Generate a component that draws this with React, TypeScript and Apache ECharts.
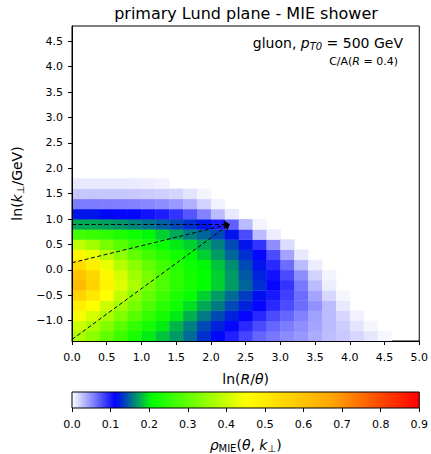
import React, { useEffect, useRef } from "react";
import * as echarts from "echarts";

const FONT = "DejaVu Sans";
const BIN = 0.2;

// lower edges of the bins
const xBins = [0, 0.2, 0.4, 0.6, 0.8, 1.0, 1.2, 1.4, 1.6, 1.8, 2.0, 2.2, 2.4, 2.6, 2.8, 3.0, 3.2, 3.4, 3.6, 3.8, 4.0, 4.2, 4.4, 4.6, 4.8];
const yBins = [-1.4, -1.2, -1.0, -0.8, -0.6, -0.4, -0.2, 0.0, 0.2, 0.4, 0.6, 0.8, 1.0, 1.2, 1.4, 1.6];

// density rows, bottom (y=-1.4) to top (y=1.6); columns follow xBins
const rho_r0 = [0.37, 0.34, 0.30, 0.265, 0.23, 0.20, 0.185, 0.17, 0.152, 0.13, 0.115, 0.099, 0.082, 0.068, 0.06, 0.051, 0.046, 0.037, 0.029, 0.024, 0.018, 0.011, 0.004, 0, 0];
const rho_r1 = [0.40, 0.37, 0.33, 0.29, 0.255, 0.225, 0.20, 0.18, 0.16, 0.14, 0.125, 0.11, 0.095, 0.08, 0.068, 0.058, 0.05, 0.04, 0.03, 0.022, 0.012, 0.004, 0, 0, 0];
const rho_r2 = [0.44, 0.41, 0.37, 0.33, 0.29, 0.255, 0.225, 0.20, 0.178, 0.158, 0.14, 0.125, 0.11, 0.095, 0.08, 0.068, 0.055, 0.042, 0.03, 0.018, 0.006, 0, 0, 0, 0];
const rho_r3 = [0.49, 0.45, 0.40, 0.36, 0.32, 0.28, 0.245, 0.22, 0.195, 0.175, 0.158, 0.14, 0.125, 0.11, 0.095, 0.08, 0.065, 0.048, 0.03, 0.01, 0, 0, 0, 0, 0];
const rho_r4 = [0.56, 0.51, 0.45, 0.39, 0.34, 0.30, 0.265, 0.235, 0.21, 0.19, 0.17, 0.152, 0.135, 0.118, 0.102, 0.085, 0.065, 0.04, 0.018, 0.004, 0, 0, 0, 0, 0];
const rho_r5 = [0.62, 0.56, 0.48, 0.42, 0.37, 0.32, 0.28, 0.25, 0.225, 0.21, 0.19, 0.17, 0.15, 0.13, 0.11, 0.09, 0.06, 0.03, 0.008, 0, 0, 0, 0, 0, 0];
const rho_r6 = [0.60, 0.55, 0.47, 0.41, 0.36, 0.32, 0.28, 0.25, 0.225, 0.21, 0.19, 0.17, 0.145, 0.125, 0.105, 0.08, 0.05, 0.02, 0.005, 0, 0, 0, 0, 0, 0];
const rho_r7 = [0.54, 0.49, 0.43, 0.38, 0.34, 0.30, 0.27, 0.24, 0.22, 0.205, 0.185, 0.165, 0.14, 0.12, 0.095, 0.065, 0.03, 0.008, 0, 0, 0, 0, 0, 0, 0];
const rho_r8 = [0.47, 0.43, 0.38, 0.34, 0.30, 0.27, 0.245, 0.225, 0.205, 0.19, 0.17, 0.15, 0.13, 0.11, 0.08, 0.04, 0.01, 0, 0, 0, 0, 0, 0, 0, 0];
const rho_r9 = [0.39, 0.36, 0.32, 0.29, 0.26, 0.235, 0.215, 0.20, 0.19, 0.175, 0.16, 0.14, 0.12, 0.09, 0.05, 0.015, 0, 0, 0, 0, 0, 0, 0, 0, 0];
const rho_r10 = [0.27, 0.26, 0.25, 0.235, 0.22, 0.205, 0.19, 0.175, 0.16, 0.15, 0.14, 0.12, 0.08, 0.03, 0.008, 0, 0, 0, 0, 0, 0, 0, 0, 0, 0];
const rho_r11 = [0.175, 0.175, 0.172, 0.168, 0.162, 0.155, 0.148, 0.14, 0.13, 0.12, 0.10, 0.07, 0.03, 0.005, 0, 0, 0, 0, 0, 0, 0, 0, 0, 0, 0];
const rho_r12 = [0.12, 0.12, 0.115, 0.11, 0.11, 0.105, 0.10, 0.09, 0.075, 0.055, 0.03, 0.01, 0, 0, 0, 0, 0, 0, 0, 0, 0, 0, 0, 0, 0];
const rho_r13 = [0.058, 0.058, 0.057, 0.056, 0.055, 0.053, 0.05, 0.045, 0.035, 0.02, 0.006, 0, 0, 0, 0, 0, 0, 0, 0, 0, 0, 0, 0, 0, 0];
const rho_r14 = [0.025, 0.025, 0.025, 0.025, 0.024, 0.023, 0.021, 0.019, 0.012, 0.005, 0, 0, 0, 0, 0, 0, 0, 0, 0, 0, 0, 0, 0, 0, 0];
const rho_r15 = [0.01, 0.01, 0.01, 0.01, 0.009, 0.008, 0.006, 0, 0, 0, 0, 0, 0, 0, 0, 0, 0, 0, 0, 0, 0, 0, 0, 0, 0];
const rhoRows = [rho_r0, rho_r1, rho_r2, rho_r3, rho_r4, rho_r5, rho_r6, rho_r7, rho_r8, rho_r9, rho_r10, rho_r11, rho_r12, rho_r13, rho_r14, rho_r15];

// reference lines (start, end) in (ln R/theta, ln kt)
const qsLine = [[0, 0.9], [2.27, 0.9]];
const qhatLine = [[0, 0.14], [2.27, 0.9]];
const lLine = [[0, -1.37], [2.27, 0.9]];

const xTicks = [0, 0.5, 1, 1.5, 2, 2.5, 3, 3.5, 4, 4.5, 5];
const yTicks = [-1, -0.5, 0, 0.5, 1, 1.5, 2, 2.5, 3, 3.5, 4, 4.5];
const cbTicks = [0, 0.1, 0.2, 0.3, 0.4, 0.5, 0.6, 0.7, 0.8, 0.9];

const X_MIN = 0, X_MAX = 5, Y_MIN = -1.4, Y_MAX = 4.8, V_MAX = 0.9;

const CMAP: [number, number[]][] = [
  [0, [255, 255, 255]],
  [0.1125, [0, 0, 255]],
  [0.207, [0, 255, 0]],
  [0.45, [255, 255, 0]],
  [0.675, [255, 165, 0]],
  [0.9, [255, 0, 0]],
];

function cmap(v: number): string {
  if (v <= CMAP[0][0]) return `rgb(${CMAP[0][1].join(",")})`;
  for (let i = 1; i < CMAP.length; i++) {
    if (v <= CMAP[i][0]) {
      const [a, ca] = CMAP[i - 1];
      const [b, cb] = CMAP[i];
      const t = (v - a) / (b - a);
      const c = ca.map((q, k) => Math.round(q + (cb[k] - q) * t));
      return `rgb(${c.join(",")})`;
    }
  }
  return `rgb(${CMAP[CMAP.length - 1][1].join(",")})`;
}

const fmt = (v: number) => v.toFixed(1).replace("-", "\u2212");

export default function App() {
  const ref = useRef<HTMLDivElement>(null);
  useEffect(() => {
    if (!ref.current) return;
    const chart = echarts.init(ref.current, undefined, { renderer: "svg" });

    const cells: number[][] = [];
    rhoRows.forEach((row, r) => {
      row.forEach((v, c) => {
        if (v > 0) cells.push([xBins[c], yBins[r], v]);
      });
    });

    const gradStops = [];
    for (let i = 0; i <= 90; i++) {
      const v = (i / 90) * V_MAX;
      gradStops.push({ offset: i / 90, color: cmap(v) });
    }

    const txt = { fontFamily: FONT, color: "#000" };
    const dash = { color: "#000", width: 1, type: [4, 2.5] as any };
    const ml = (seg: number[][]) => [{ coord: seg[0] }, { coord: seg[1] }];

    const option: any = {
      animation: false,
      backgroundColor: "#fff",
      textStyle: { fontFamily: FONT },
      grid: [
        { left: 72, right: 11, top: 26, height: 315, show: true, borderColor: "#000", borderWidth: 1, backgroundColor: "transparent" },
        { left: 72, right: 11, top: 392, height: 19 },
      ],
      xAxis: [
        {
          gridIndex: 0, type: "value", min: X_MIN, max: X_MAX, interval: 0.5, z: 10,
          axisLine: { show: true, onZero: false, lineStyle: { color: "#000", width: 1 } },
          axisTick: { show: true, inside: false, length: 4, lineStyle: { color: "#000" }, customValues: xTicks },
          axisLabel: { ...txt, fontSize: 11, margin: 11, formatter: fmt, customValues: xTicks },
          splitLine: { show: false },
          name: "ln({i|R}/{i|θ})", nameLocation: "middle", nameGap: 31,
          nameTextStyle: { ...txt, fontSize: 14, rich: { i: { ...txt, fontSize: 14, fontStyle: "italic" } } },
        },
        {
          gridIndex: 1, type: "value", min: 0, max: V_MAX, interval: 0.1, z: 10,
          axisLine: { show: false },
          axisTick: { show: true, length: 4, lineStyle: { color: "#000" } },
          axisLabel: { ...txt, fontSize: 11, margin: 11, formatter: fmt, customValues: cbTicks },
          splitLine: { show: false },
          name: "{r|ρ}{sub|MIE}({i|θ}, {i|k}{sub|⊥})", nameLocation: "middle", nameGap: 28,
          nameTextStyle: {
            ...txt, fontSize: 14,
            rich: {
              r: { ...txt, fontSize: 14, fontStyle: "italic" },
              i: { ...txt, fontSize: 14, fontStyle: "italic" },
              sub: { ...txt, fontSize: 10, padding: [7, 0, 0, 0] },
            },
          },
        },
      ],
      yAxis: [
        {
          gridIndex: 0, type: "value", min: Y_MIN, max: Y_MAX, z: 10,
          axisLine: { show: true, onZero: false, lineStyle: { color: "#000", width: 1 } },
          axisTick: { show: true, inside: false, length: 4, lineStyle: { color: "#000" }, customValues: yTicks },
          axisLabel: { ...txt, fontSize: 11, margin: 9, formatter: fmt, customValues: yTicks },
          splitLine: { show: false },
          name: "ln({i|k}{sub|⊥}/GeV)", nameLocation: "middle", nameGap: 46,
          nameTextStyle: {
            ...txt, fontSize: 14,
            rich: {
              i: { ...txt, fontSize: 14, fontStyle: "italic" },
              sub: { ...txt, fontSize: 10, padding: [7, 0, 0, 0] },
            },
          },
        },
        { gridIndex: 1, type: "value", min: 0, max: 1, show: false },
      ],
      series: [
        {
          type: "custom",
          xAxisIndex: 0,
          yAxisIndex: 0,
          data: cells,
          encode: { x: 0, y: 1 },
          renderItem: (params: any, api: any) => {
            const x0 = api.value(0), y0 = api.value(1), v = api.value(2);
            const p1 = api.coord([x0, y0 + BIN]);
            const p2 = api.coord([x0 + BIN, y0]);
            return {
              type: "rect",
              shape: { x: p1[0], y: p1[1], width: p2[0] - p1[0] + 0.4, height: p2[1] - p1[1] + 0.4 },
              style: { fill: cmap(v) },
            };
          },
          z: 1,
          silent: true,
        },
        {
          type: "line",
          xAxisIndex: 0,
          yAxisIndex: 0,
          data: [],
          silent: true,
          z: 5,
          markLine: {
            silent: true,
            symbol: ["none", "arrow"],
            symbolSize: 6,
            label: { show: false },
            lineStyle: dash,
            emphasis: { disabled: true },
            data: [ml(qsLine), ml(qhatLine), ml(lLine)],
          },
        },
        {
          type: "custom",
          xAxisIndex: 1,
          yAxisIndex: 1,
          data: [[0, 0]],
          silent: true,
          renderItem: (params: any, api: any) => {
            const a = api.coord([0, 1]);
            const b = api.coord([V_MAX, 0]);
            return {
              type: "rect",
              shape: { x: a[0], y: a[1], width: b[0] - a[0], height: b[1] - a[1] },
              style: { fill: new echarts.graphic.LinearGradient(0, 0, 1, 0, gradStops), stroke: "#000", lineWidth: 1 },
            };
          },
        },
      ],
      graphic: [
        {
          type: "text", x: 246, y: 13,
          style: { text: "primary Lund plane - MIE shower", ...txt, fill: "#000", fontSize: 16, textAlign: "center", textVerticalAlign: "middle" },
        },
        {
          type: "text", x: 403, y: 43,
          style: {
            text: "gluon, {i|p}{sub|T0} = 500 GeV", fontFamily: FONT, fill: "#000", fontSize: 14, textAlign: "right", textVerticalAlign: "middle",
            rich: {
              i: { fontFamily: FONT, fontSize: 14, fontStyle: "italic", fill: "#000" },
              sub: { fontFamily: FONT, fontSize: 10, fontStyle: "italic", fill: "#000", padding: [7, 0, 0, 0] },
            },
          },
        },
        {
          type: "text", x: 398, y: 61,
          style: {
            text: "C/A({i|R} = 0.4)", fontFamily: FONT, fill: "#000", fontSize: 11, textAlign: "right", textVerticalAlign: "middle",
            rich: { i: { fontFamily: FONT, fontSize: 11, fontStyle: "italic", fill: "#000" } },
          },
        },
        {
          type: "text", x: 77, y: 233,
          style: {
            text: "{i|k}{sub|⊥} = {i|Q}{sub|s}", fontFamily: FONT, fill: "#000", fontSize: 10, textAlign: "left", textVerticalAlign: "middle",
            rich: {
              i: { fontFamily: FONT, fontSize: 10, fontStyle: "italic", fill: "#000" },
              sub: { fontFamily: FONT, fontSize: 7, fontStyle: "italic", fill: "#000", padding: [5, 0, 0, 0] },
            },
          },
        },
        {
          type: "text", x: 102, y: 265, rotation: (13.7 * Math.PI) / 180,
          style: {
            text: "{i|ω³θ⁴} = 2{i|q̂}", fontFamily: FONT, fill: "#000", fontSize: 10, textAlign: "center", textVerticalAlign: "middle",
            rich: { i: { fontFamily: FONT, fontSize: 10, fontStyle: "italic", fill: "#000" } },
          },
        },
        {
          type: "text", x: 97, y: 316, rotation: (36 * Math.PI) / 180,
          style: {
            text: "{i|ωθ²} = 2/{i|L}", fontFamily: FONT, fill: "#000", fontSize: 10, textAlign: "center", textVerticalAlign: "middle",
            rich: { i: { fontFamily: FONT, fontSize: 10, fontStyle: "italic", fill: "#000" } },
          },
        },
      ],
    };

    chart.setOption(option);
    return () => chart.dispose();
  }, []);

  return <div ref={ref} style={{ position: "fixed", left: 0, top: 0, width: 431, height: 454, background: "#fff" }} />;
}
